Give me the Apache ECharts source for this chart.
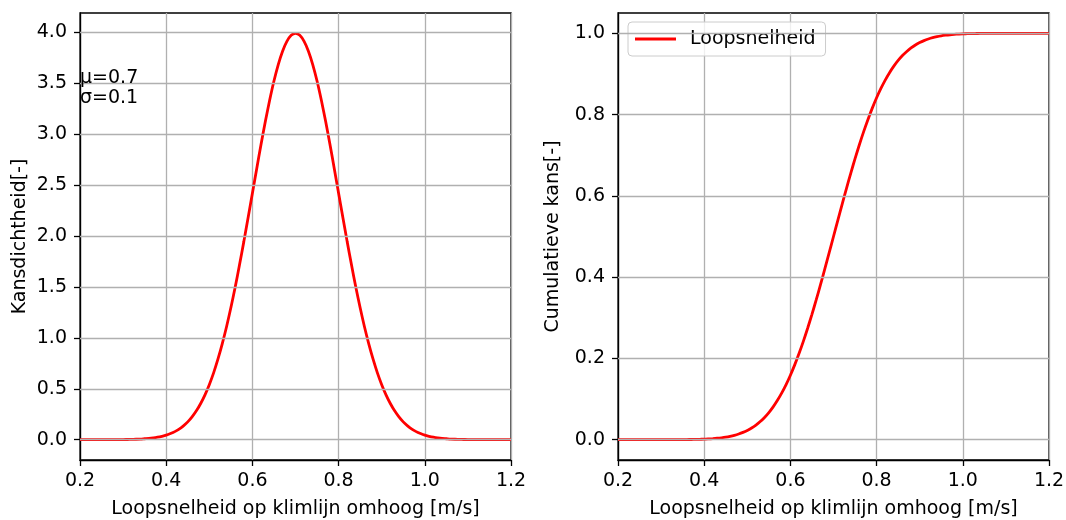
<!DOCTYPE html>
<html>
<head>
<meta charset="utf-8">
<script src="https://cdn.jsdelivr.net/npm/echarts@6/dist/echarts.min.js"></script>
<style>
html,body{margin:0;padding:0;background:#fff;}
#chart{width:1066px;height:520px;}
</style>
</head>
<body>
<div id="chart"></div>
<script>
// x positions (m/s)
var speeds = [0.20,0.21,0.22,0.23,0.24,0.25,0.26,0.27,0.28,0.29,
  0.30,0.31,0.32,0.33,0.34,0.35,0.36,0.37,0.38,0.39,
  0.40,0.41,0.42,0.43,0.44,0.45,0.46,0.47,0.48,0.49,
  0.50,0.51,0.52,0.53,0.54,0.55,0.56,0.57,0.58,0.59,
  0.60,0.61,0.62,0.63,0.64,0.65,0.66,0.67,0.68,0.69,
  0.70,0.71,0.72,0.73,0.74,0.75,0.76,0.77,0.78,0.79,
  0.80,0.81,0.82,0.83,0.84,0.85,0.86,0.87,0.88,0.89,
  0.90,0.91,0.92,0.93,0.94,0.95,0.96,0.97,0.98,0.99,
  1.00,1.01,1.02,1.03,1.04,1.05,1.06,1.07,1.08,1.09,
  1.10,1.11,1.12,1.13,1.14,1.15,1.16,1.17,1.18,1.19,1.20];

// probability density (left panel)
var density = [0.000,0.000,0.000,0.000,0.000,0.000,0.000,0.000,0.001,0.001,
  0.001,0.002,0.003,0.004,0.006,0.009,0.012,0.017,0.024,0.033,
  0.044,0.060,0.079,0.104,0.136,0.175,0.224,0.283,0.355,0.440,
  0.540,0.656,0.790,0.941,1.109,1.295,1.497,1.714,1.942,2.179,
  2.420,2.661,2.897,3.123,3.332,3.521,3.683,3.814,3.910,3.970,
  3.989,3.970,3.910,3.814,3.683,3.521,3.332,3.123,2.897,2.661,
  2.420,2.179,1.942,1.714,1.497,1.295,1.109,0.941,0.790,0.656,
  0.540,0.440,0.355,0.283,0.224,0.175,0.136,0.104,0.079,0.060,
  0.044,0.033,0.024,0.017,0.012,0.009,0.006,0.004,0.003,0.002,
  0.001,0.001,0.001,0.000,0.000,0.000,0.000,0.000,0.000,0.000,0.000];

// cumulative probability (right panel)
var cumulative = [0.0000,0.0000,0.0000,0.0000,0.0000,0.0000,0.0000,0.0000,0.0000,0.0000,
  0.0000,0.0000,0.0001,0.0001,0.0002,0.0002,0.0003,0.0005,0.0007,0.0010,
  0.0013,0.0019,0.0026,0.0035,0.0047,0.0062,0.0082,0.0107,0.0139,0.0179,
  0.0228,0.0287,0.0359,0.0446,0.0548,0.0668,0.0808,0.0968,0.1151,0.1357,
  0.1587,0.1841,0.2119,0.2420,0.2743,0.3085,0.3446,0.3821,0.4207,0.4602,
  0.5000,0.5398,0.5793,0.6179,0.6554,0.6915,0.7257,0.7580,0.7881,0.8159,
  0.8413,0.8643,0.8849,0.9032,0.9192,0.9332,0.9452,0.9554,0.9641,0.9713,
  0.9772,0.9821,0.9861,0.9893,0.9918,0.9938,0.9953,0.9965,0.9974,0.9981,
  0.9987,0.9990,0.9993,0.9995,0.9997,0.9998,0.9998,0.9999,0.9999,1.0000,
  1.0000,1.0000,1.0000,1.0000,1.0000,1.0000,1.0000,1.0000,1.0000,1.0000,1.0000];

var leftYTicks = [0.0,0.5,1.0,1.5,2.0,2.5,3.0,3.5,4.0];
var rightYTicks = [0.0,0.2,0.4,0.6,0.8,1.0];
var xTicks = [0.2,0.4,0.6,0.8,1.0,1.2];

var FONT = 'DejaVu Sans';
var FS = 19;

function pairs(xs, ys){ return xs.map(function(x,i){ return [x, ys[i]]; }); }

function xAxisCfg(gi){
  return {
    type:'value', gridIndex:gi, min:0.2, max:1.2, interval:0.2,
    name:'Loopsnelheid op klimlijn omhoog [m/s]', nameLocation:'middle', nameGap:40,
    nameTextStyle:{fontFamily:FONT,fontSize:FS,color:'#000'},
    axisLine:{show:true,onZero:false,lineStyle:{color:'#000',width:1.3}},
    axisTick:{show:true,inside:false,length:6,lineStyle:{color:'#000',width:1.3}},
    axisLabel:{margin:12,fontFamily:FONT,fontSize:FS,color:'#000',
      formatter:function(v){return v.toFixed(1);}},
    splitLine:{show:true,lineStyle:{color:'#b0b0b0',width:1.3}}
  };
}
function yAxisCfg(gi, name, min, max, ticks, gap){
  return {
    type:'value', gridIndex:gi, min:min, max:max,
    name:name, nameLocation:'middle', nameGap:gap,
    nameTextStyle:{fontFamily:FONT,fontSize:FS,color:'#000'},
    axisLine:{show:true,onZero:false,lineStyle:{color:'#000',width:1.3}},
    axisTick:{show:true,inside:false,length:6,customValues:ticks,lineStyle:{color:'#000',width:1.3}},
    axisLabel:{margin:13,fontFamily:FONT,fontSize:FS,color:'#000',customValues:ticks,
      formatter:function(v){return v.toFixed(1);}},
    splitLine:{show:false}
  };
}
function gridLines(ticks){
  return {
    silent:true, symbol:['none','none'], label:{show:false},
    lineStyle:{color:'#b0b0b0',width:1.3,type:'solid'},
    emphasis:{disabled:true},
    data: ticks.map(function(t){ return {yAxis:t}; })
  };
}

var chart = echarts.init(document.getElementById('chart'), null, {renderer:'canvas'});
chart.setOption({
  animation:false,
  backgroundColor:'#fff',
  textStyle:{fontFamily:FONT},
  grid:[
    {left:80,top:13,width:431,height:447,containLabel:false,outerBoundsMode:'none',
     show:true,borderColor:'#000',borderWidth:1.3,backgroundColor:'transparent'},
    {left:618,top:13,width:431,height:447,containLabel:false,outerBoundsMode:'none',
     show:true,borderColor:'#000',borderWidth:1.3,backgroundColor:'transparent'}
  ],
  xAxis:[xAxisCfg(0), xAxisCfg(1)],
  yAxis:[
    yAxisCfg(0,'Kansdichtheid[-]',-0.1995,4.189,leftYTicks,50),
    yAxisCfg(1,'Cumulatieve kans[-]',-0.05,1.05,rightYTicks,55)
  ],
  legend:{
    data:[{name:'Loopsnelheid', icon:'rect'}],
    left:628, top:22,
    orient:'vertical',
    backgroundColor:'rgba(255,255,255,0.8)',
    borderColor:'#cccccc', borderWidth:1, borderRadius:4,
    padding:[6,10,6,7],
    itemWidth:41, itemHeight:2.8,
    itemStyle:{color:'#ff0000'},
    textStyle:{fontFamily:FONT,fontSize:FS,color:'#000',padding:[0,0,0,9],lineHeight:22}
  },
  graphic:[
    {type:'text', left:80, top:68, z:100,
     style:{text:'\u03bc=0.7\n\u03c3=0.1', font:FS+'px "DejaVu Sans"', fill:'#000', lineHeight:20}}
  ],
  series:[
    {name:'Kansdichtheid', type:'line', xAxisIndex:0, yAxisIndex:0,
     data:pairs(speeds,density), showSymbol:false, symbol:'none', smooth:0.3,
     lineStyle:{color:'#ff0000',width:2.8}, itemStyle:{color:'#ff0000'},
     markLine:gridLines(leftYTicks), z:3},
    {name:'Loopsnelheid', type:'line', xAxisIndex:1, yAxisIndex:1,
     data:pairs(speeds,cumulative), showSymbol:false, symbol:'none', smooth:0.3,
     lineStyle:{color:'#ff0000',width:2.8}, itemStyle:{color:'#ff0000'},
     markLine:gridLines(rightYTicks), z:3}
  ]
});
</script>
</body>
</html>
